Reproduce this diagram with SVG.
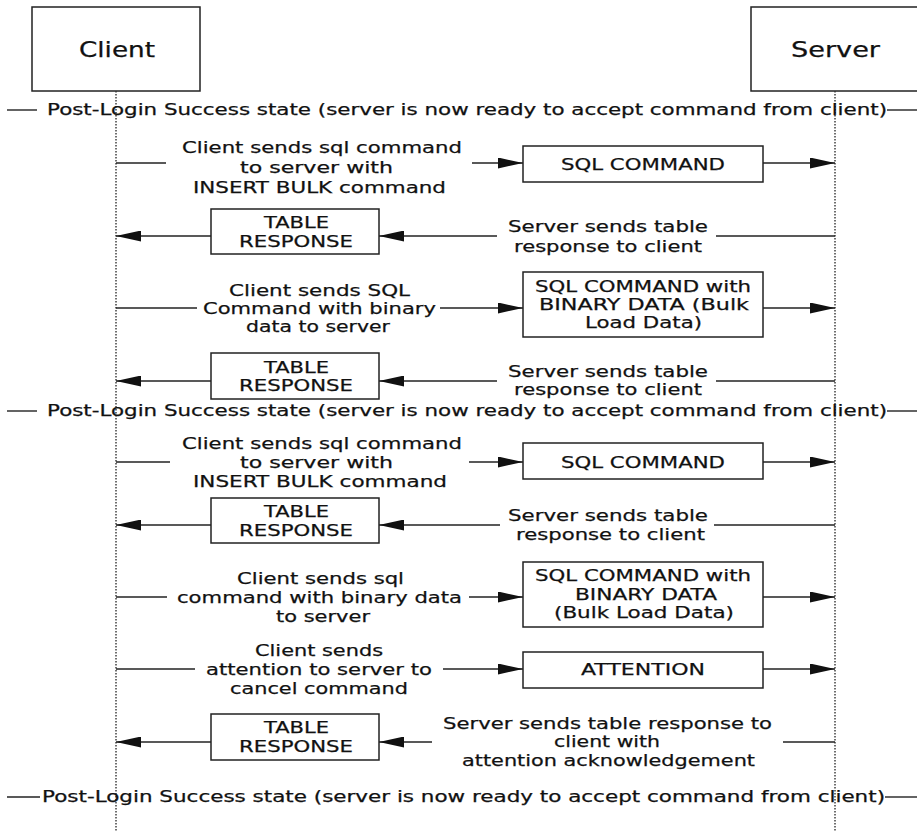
<svg xmlns="http://www.w3.org/2000/svg" width="917" height="831" viewBox="0 0 917 831">
<style>
text{font-family:"DejaVu Sans","Liberation Sans",sans-serif;fill:#111;stroke:#111;stroke-width:0.25;}
.t{font-size:16.5px;}
.h{font-size:21px;}
.p{font-size:16px;}
.box{fill:#fff;stroke:#222;stroke-width:1.5;}
.ln{stroke:#222;stroke-width:1.4;fill:none;}
.ar{stroke:#222;stroke-width:1.4;fill:none;marker-end:url(#ah);}
.life{stroke:#333;stroke-width:1.4;stroke-dasharray:1.5,1.5;fill:none;}
</style>
<defs>
<marker id="ah" markerUnits="userSpaceOnUse" markerWidth="25" markerHeight="11" refX="25" refY="5.5" orient="auto">
<path d="M0,0 L25,5.5 L0,11 z" fill="#111"/>
</marker>
</defs>
<rect width="917" height="831" fill="#fff"/>

<g id="client">
<rect class="box" x="32" y="7" width="168" height="84"/>
<text class="h" x="79" y="57" textLength="76" lengthAdjust="spacingAndGlyphs">Client</text>
<line class="life" x1="116" y1="91" x2="116" y2="831"/>
</g>
<g id="server">
<rect class="box" x="751" y="7" width="170" height="84"/>
<text class="h" x="791" y="57" textLength="89" lengthAdjust="spacingAndGlyphs">Server</text>
<line class="life" x1="835" y1="91" x2="835" y2="831"/>
</g>

<g id="state1">
<line class="ln" x1="7" y1="110" x2="37" y2="110"/>
<line class="ln" x1="887" y1="110" x2="917" y2="110"/>
<text class="p" x="47" y="115" textLength="840" lengthAdjust="spacingAndGlyphs">Post-Login Success state (server is now ready to accept command from client)</text>
</g>
<g id="state2">
<line class="ln" x1="7" y1="411" x2="37" y2="411"/>
<line class="ln" x1="887" y1="411" x2="917" y2="411"/>
<text class="p" x="47" y="416" textLength="840" lengthAdjust="spacingAndGlyphs">Post-Login Success state (server is now ready to accept command from client)</text>
</g>
<g id="state3">
<line class="ln" x1="7" y1="797" x2="40" y2="797"/>
<line class="ln" x1="885" y1="797" x2="917" y2="797"/>
<text class="p" x="42" y="802" textLength="843" lengthAdjust="spacingAndGlyphs">Post-Login Success state (server is now ready to accept command from client)</text>
</g>

<g id="connectors">
<line class="ln" x1="116" y1="163" x2="166" y2="163"/>
<line class="ar" x1="472" y1="163" x2="523" y2="163"/>
<line class="ar" x1="763" y1="163" x2="835" y2="163"/>

<line class="ln" x1="835" y1="236" x2="716" y2="236"/>
<line class="ar" x1="497" y1="236" x2="379" y2="236"/>
<line class="ar" x1="211" y1="236" x2="116" y2="236"/>

<line class="ln" x1="116" y1="308" x2="197" y2="308"/>
<line class="ar" x1="440" y1="308" x2="523" y2="308"/>
<line class="ar" x1="763" y1="308" x2="835" y2="308"/>

<line class="ln" x1="835" y1="381" x2="716" y2="381"/>
<line class="ar" x1="497" y1="381" x2="379" y2="381"/>
<line class="ar" x1="211" y1="381" x2="116" y2="381"/>

<line class="ln" x1="116" y1="462" x2="170" y2="462"/>
<line class="ar" x1="469" y1="462" x2="523" y2="462"/>
<line class="ar" x1="763" y1="462" x2="835" y2="462"/>

<line class="ln" x1="835" y1="525" x2="714" y2="525"/>
<line class="ar" x1="500" y1="525" x2="379" y2="525"/>
<line class="ar" x1="211" y1="525" x2="116" y2="525"/>

<line class="ln" x1="116" y1="597" x2="167" y2="597"/>
<line class="ar" x1="469" y1="597" x2="523" y2="597"/>
<line class="ar" x1="763" y1="597" x2="835" y2="597"/>

<line class="ln" x1="116" y1="669" x2="195" y2="669"/>
<line class="ar" x1="443" y1="669" x2="523" y2="669"/>
<line class="ar" x1="763" y1="669" x2="835" y2="669"/>

<line class="ln" x1="835" y1="742" x2="783" y2="742"/>
<line class="ar" x1="432" y1="742" x2="379" y2="742"/>
<line class="ar" x1="211" y1="742" x2="116" y2="742"/>
</g>

<g id="label1">
<text class="t" x="182" y="153" textLength="280" lengthAdjust="spacingAndGlyphs">Client sends sql command</text>
<text class="t" x="240" y="173" textLength="153" lengthAdjust="spacingAndGlyphs">to server with</text>
<text class="t" x="193" y="193" textLength="253" lengthAdjust="spacingAndGlyphs">INSERT BULK command</text>
</g>
<g id="sqlcommand1">
<rect class="box" x="523" y="146" width="240" height="36"/>
<text class="t" x="561" y="170" textLength="164" lengthAdjust="spacingAndGlyphs">SQL COMMAND</text>
</g>

<g id="label2">
<text class="t" x="508" y="232" textLength="200" lengthAdjust="spacingAndGlyphs">Server sends table</text>
<text class="t" x="514" y="252" textLength="188" lengthAdjust="spacingAndGlyphs">response to client</text>
</g>
<g id="tableresponse1">
<rect class="box" x="211" y="209" width="168" height="45"/>
<text class="t" x="264" y="228" textLength="65" lengthAdjust="spacingAndGlyphs">TABLE</text>
<text class="t" x="239" y="247" textLength="114" lengthAdjust="spacingAndGlyphs">RESPONSE</text>
</g>

<g id="label3">
<text class="t" x="229" y="296" textLength="181" lengthAdjust="spacingAndGlyphs">Client sends SQL</text>
<text class="t" x="203" y="314" textLength="233" lengthAdjust="spacingAndGlyphs">Command with binary</text>
<text class="t" x="246" y="332" textLength="144" lengthAdjust="spacingAndGlyphs">data to server</text>
</g>
<g id="bulkdata1">
<rect class="box" x="523" y="272" width="240" height="65"/>
<text class="t" x="535" y="292" textLength="216" lengthAdjust="spacingAndGlyphs">SQL COMMAND with</text>
<text class="t" x="539" y="310" textLength="210" lengthAdjust="spacingAndGlyphs">BINARY DATA (Bulk</text>
<text class="t" x="585" y="328" textLength="117" lengthAdjust="spacingAndGlyphs">Load Data)</text>
</g>

<g id="label4">
<text class="t" x="508" y="377" textLength="200" lengthAdjust="spacingAndGlyphs">Server sends table</text>
<text class="t" x="514" y="395" textLength="188" lengthAdjust="spacingAndGlyphs">response to client</text>
</g>
<g id="tableresponse2">
<rect class="box" x="211" y="353" width="168" height="46"/>
<text class="t" x="264" y="373" textLength="65" lengthAdjust="spacingAndGlyphs">TABLE</text>
<text class="t" x="239" y="391" textLength="114" lengthAdjust="spacingAndGlyphs">RESPONSE</text>
</g>

<g id="label5">
<text class="t" x="182" y="449" textLength="280" lengthAdjust="spacingAndGlyphs">Client sends sql command</text>
<text class="t" x="240" y="468" textLength="153" lengthAdjust="spacingAndGlyphs">to server with</text>
<text class="t" x="193" y="487" textLength="254" lengthAdjust="spacingAndGlyphs">INSERT BULK command</text>
</g>
<g id="sqlcommand2">
<rect class="box" x="523" y="443" width="240" height="36"/>
<text class="t" x="561" y="468" textLength="164" lengthAdjust="spacingAndGlyphs">SQL COMMAND</text>
</g>

<g id="label6">
<text class="t" x="508" y="521" textLength="200" lengthAdjust="spacingAndGlyphs">Server sends table</text>
<text class="t" x="516" y="540" textLength="189" lengthAdjust="spacingAndGlyphs">response to client</text>
</g>
<g id="tableresponse3">
<rect class="box" x="211" y="498" width="168" height="45"/>
<text class="t" x="264" y="517" textLength="65" lengthAdjust="spacingAndGlyphs">TABLE</text>
<text class="t" x="239" y="536" textLength="114" lengthAdjust="spacingAndGlyphs">RESPONSE</text>
</g>

<g id="label7">
<text class="t" x="237" y="584" textLength="167" lengthAdjust="spacingAndGlyphs">Client sends sql</text>
<text class="t" x="177" y="603" textLength="285" lengthAdjust="spacingAndGlyphs">command with binary data</text>
<text class="t" x="276" y="622" textLength="94" lengthAdjust="spacingAndGlyphs">to server</text>
</g>
<g id="bulkdata2">
<rect class="box" x="523" y="562" width="240" height="65"/>
<text class="t" x="535" y="581" textLength="216" lengthAdjust="spacingAndGlyphs">SQL COMMAND with</text>
<text class="t" x="575" y="600" textLength="142" lengthAdjust="spacingAndGlyphs">BINARY DATA</text>
<text class="t" x="554" y="618" textLength="180" lengthAdjust="spacingAndGlyphs">(Bulk Load Data)</text>
</g>

<g id="label8">
<text class="t" x="255" y="656" textLength="128" lengthAdjust="spacingAndGlyphs">Client sends</text>
<text class="t" x="206" y="675" textLength="226" lengthAdjust="spacingAndGlyphs">attention to server to</text>
<text class="t" x="230" y="694" textLength="178" lengthAdjust="spacingAndGlyphs">cancel command</text>
</g>
<g id="attention">
<rect class="box" x="523" y="652" width="240" height="36"/>
<text class="t" x="581" y="675" textLength="124" lengthAdjust="spacingAndGlyphs">ATTENTION</text>
</g>

<g id="label9">
<text class="t" x="443" y="729" textLength="329" lengthAdjust="spacingAndGlyphs">Server sends table response to</text>
<text class="t" x="554" y="747" textLength="106" lengthAdjust="spacingAndGlyphs">client with</text>
<text class="t" x="462" y="766" textLength="293" lengthAdjust="spacingAndGlyphs">attention acknowledgement</text>
</g>
<g id="tableresponse4">
<rect class="box" x="211" y="714" width="168" height="46"/>
<text class="t" x="264" y="733" textLength="65" lengthAdjust="spacingAndGlyphs">TABLE</text>
<text class="t" x="239" y="752" textLength="114" lengthAdjust="spacingAndGlyphs">RESPONSE</text>
</g>
</svg>
